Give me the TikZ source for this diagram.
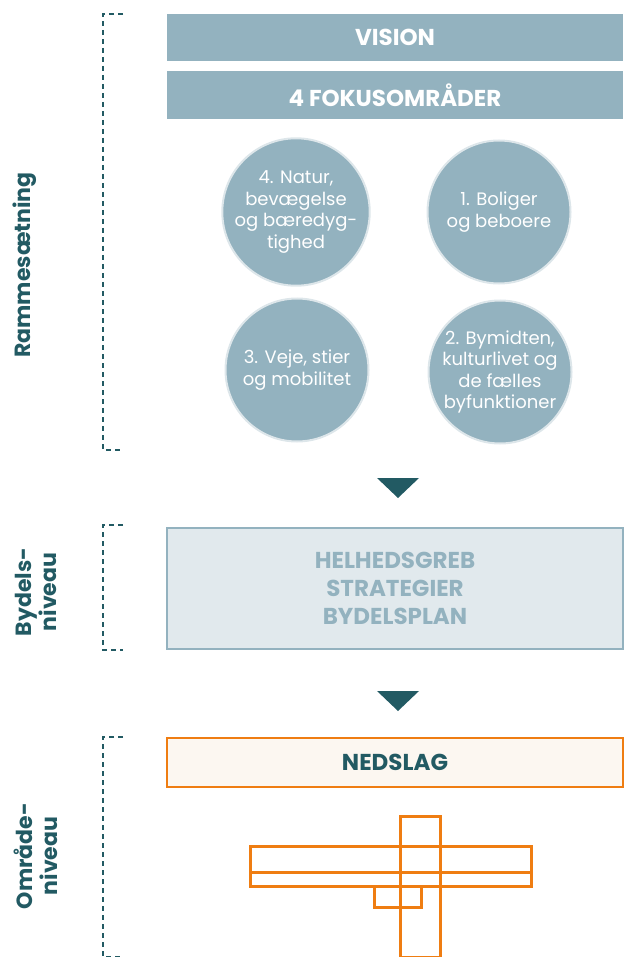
\documentclass[tikz,border=0pt]{standalone}
\usepackage{fontspec}
\setmainfont{Poppins}
\usepackage{tikz}
\usetikzlibrary{positioning}
\definecolor{graablaa}{HTML}{93B2BF}
\definecolor{lysblaa}{HTML}{E1E9ED}
\definecolor{ring}{HTML}{DDE6EA}
\definecolor{petrol}{HTML}{225A63}
\definecolor{orange}{HTML}{EF7D12}
\definecolor{creme}{HTML}{FCF7F1}

\begin{document}
\begin{tikzpicture}[x=1pt,y=-1pt,
		band/.style={fill=graablaa, minimum width=456pt, minimum height=47pt, inner sep=0pt, text=white, font=\fontsize{23}{27}\selectfont\bfseries},
		fokus/.style={circle, fill=graablaa, draw=ring, line width=2pt, minimum size=143pt, inner sep=0pt, text=white, align=center, font=\fontsize{18}{21.5}\selectfont},
		side/.style={rotate=90, text=petrol, align=center, font=\fontsize{22}{25}\selectfont\bfseries},
		klamme/.style={petrol, line width=1.3pt, dash pattern=on 5pt off 4pt},
		pil/.style={fill=petrol}]
	\useasboundingbox (0,0) rectangle (623,957);
	% rammesaetning
	\node[band] (vision) at (395,37.5) {VISION};
	\node[band, minimum height=48pt] (fokus) at (395,95) {4 FOKUSOMRÅDER};
	\node[fokus] (f4) at (296,212) {4. Natur,\\bevægelse\\og bæredyg-\\tighed};
	\node[fokus] (f1) at (499,212) {1. Boliger\\og beboere};
	\node[fokus] (f3) at (297,370) {3. Veje, stier\\og mobilitet};
	\node[fokus] (f2) at (500,372) {2. Bymidten,\\kulturlivet og\\de fælles\\byfunktioner};
	\draw[klamme] (123,14) -| (103,450) -- (123,450);
	\node[side] (ramme) at (25,265) {Rammesætning};
	\fill[pil] (377,478) -- (419,478) -- (398,498) -- cycle;
	% bydelsniveau
	\node[fill=lysblaa, draw=graablaa, line width=2pt, minimum width=456pt, minimum height=121pt, inner sep=0pt, text=graablaa, align=center, font=\fontsize{23}{28}\selectfont\bfseries] (bydel) at (395,588) {HELHEDSGREB\\STRATEGIER\\BYDELSPLAN};
	\draw[klamme] (123,525) -| (103,650) -- (123,650);
	\node[side] (bydelsniveau) at (36,592) {Bydels-\\niveau};
	\fill[pil] (377,691) -- (419,691) -- (398,711) -- cycle;
	% omraadeniveau
	\node[fill=creme, draw=orange, line width=2.5pt, minimum width=456pt, minimum height=49pt, inner sep=0pt, text=petrol, font=\fontsize{23}{27}\selectfont\bfseries] (nedslag) at (395,762.5) {NEDSLAG};
	\draw[klamme] (123,737) -| (103,957) -- (123,957);
	\node[side] (omraadeniveau) at (36,856) {Område-\\niveau};
	\begin{scope}[orange, line width=3pt]
		\draw (400,816) rectangle (440,957);
		\draw (250,846) rectangle (531,886);
		\draw (250,872) -- (531,872);
		\draw (374,886) rectangle (421,907);
	\end{scope}
\end{tikzpicture}
\end{document}
